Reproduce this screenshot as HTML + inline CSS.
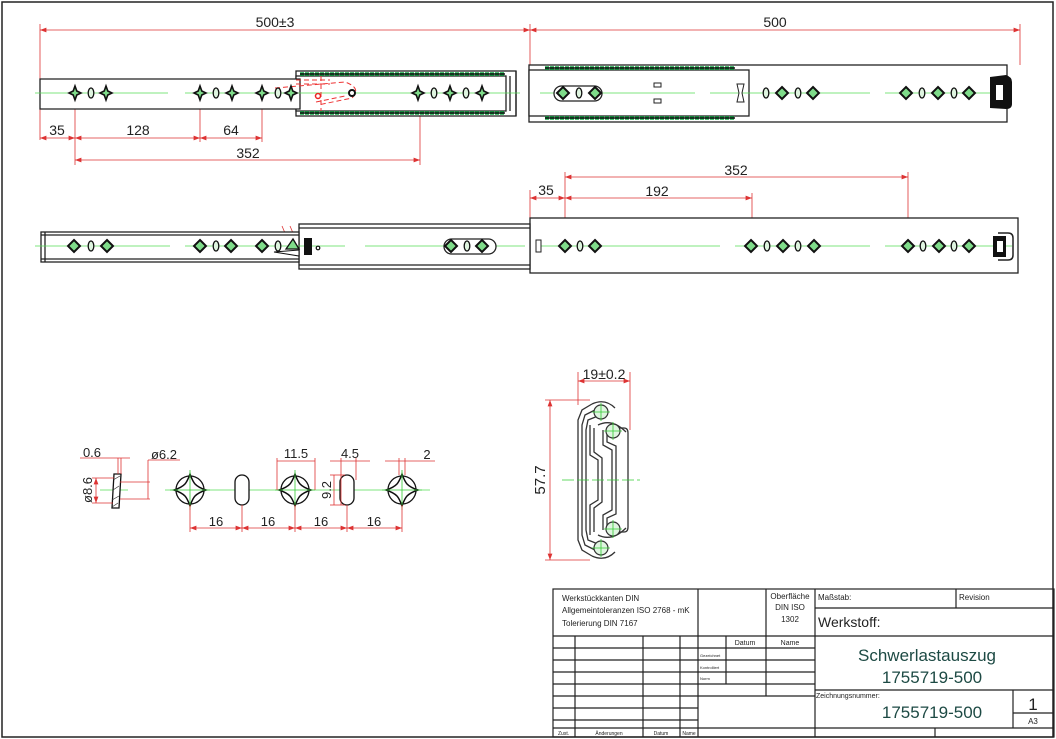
<!DOCTYPE html>
<html><head><meta charset="utf-8"><style>
html,body{margin:0;padding:0;background:#fff}
svg{display:block}
text{font-family:"Liberation Sans",sans-serif}
</style></head><body>
<svg width="1056" height="739" viewBox="0 0 1056 739" xmlns="http://www.w3.org/2000/svg">
<defs>
<g id="cr"><path d="M0,-7 L1.8,-2 L6,0 L1.8,2 L0,7 L-1.8,2 L-6,0 L-1.8,-2 Z" fill="#7fdc8a" stroke="#111" stroke-width="1.6"/></g>
<g id="dm"><path d="M0,-6 L6,0 L0,6 L-6,0 Z" fill="#7fdc8a" stroke="#111" stroke-width="2"/></g>
<g id="ov"><ellipse cx="0" cy="0" rx="2.8" ry="5" fill="#dff5e0" stroke="#111" stroke-width="1.3"/></g>
<g id="bc"><path d="M-4,-16 L-4,-6 A10 10 0 0 0 -16,-4 L-6,-4 L-16,-4 A11,11 0 0 1 -4,-16Z" fill="none"/>
<circle r="14" fill="none" stroke="#111" stroke-width="1.3"/>
<path d="M0,-16 C3,-8 4,-4 16,0 C4,4 3,8 0,16 C-3,8 -4,4 -16,0 C-4,-4 -3,-8 0,-16Z" fill="#fff" stroke="#111" stroke-width="1.5"/>
<line x1="-20" y1="0" x2="20" y2="0" stroke="#3c3" stroke-width="0.8"/><line x1="0" y1="-20" x2="0" y2="20" stroke="#3c3" stroke-width="0.8"/></g>
<marker id="ar" markerWidth="8" markerHeight="6" refX="8" refY="3" orient="auto-start-reverse"><path d="M0,0 L8,3 L0,6Z" fill="#d33"/></marker>
</defs>

<!-- border -->
<rect x="2" y="2" width="1051" height="735" fill="none" stroke="#222" stroke-width="1.5"/>

<g font-size="14" fill="#222" text-anchor="middle">
<!-- ===== VIEW 1 ===== -->
<g stroke="#d33" stroke-width="0.8" fill="none">
<line x1="40" y1="24" x2="40" y2="140"/><line x1="530" y1="24" x2="530" y2="65"/><line x1="1020" y1="24" x2="1020" y2="65"/>
<line x1="40" y1="30" x2="530" y2="30" marker-start="url(#ar)" marker-end="url(#ar)"/>
<line x1="530" y1="30" x2="1020" y2="30" marker-start="url(#ar)" marker-end="url(#ar)"/>
<line x1="75" y1="93" x2="75" y2="165"/><line x1="200" y1="93" x2="200" y2="142"/><line x1="262" y1="93" x2="262" y2="142"/><line x1="420" y1="93" x2="420" y2="165"/>
<line x1="40" y1="138" x2="75" y2="138" marker-start="url(#ar)" marker-end="url(#ar)"/>
<line x1="75" y1="138" x2="200" y2="138" marker-start="url(#ar)" marker-end="url(#ar)"/>
<line x1="200" y1="138" x2="262" y2="138" marker-start="url(#ar)" marker-end="url(#ar)"/>
<line x1="75" y1="160" x2="420" y2="160" marker-start="url(#ar)" marker-end="url(#ar)"/>
</g>
<text x="275" y="27">500±3</text><text x="775" y="27">500</text>
<text x="57" y="135">35</text><text x="138" y="135">128</text><text x="231" y="135">64</text><text x="248" y="158">352</text>

<g stroke="#222" stroke-width="1.3" fill="#fff">
<rect x="529" y="65" width="478" height="57"/>
<rect x="529" y="70" width="220" height="46"/>
<rect x="296" y="71" width="220" height="45"/>
<rect x="296" y="76" width="210" height="35"/>
<path d="M40,79 L300,79 L300,109 L40,109 Z"/>
<line x1="516" y1="71" x2="516" y2="116"/>
<line x1="510" y1="76" x2="510" y2="111"/>
</g>
<g stroke="#1a4" stroke-width="3.5" stroke-dasharray="4,1"><line x1="300" y1="74" x2="505" y2="74"/><line x1="300" y1="113" x2="505" y2="113"/><line x1="545" y1="68" x2="735" y2="68"/><line x1="545" y1="118" x2="735" y2="118"/></g>
<g stroke="#111" stroke-width="1.5"><line x1="300" y1="74" x2="505" y2="74"/><line x1="300" y1="113" x2="505" y2="113"/><line x1="545" y1="68" x2="735" y2="68"/><line x1="545" y1="118" x2="735" y2="118"/></g>
<g stroke="#5d5" stroke-width="0.8"><line x1="35" y1="93" x2="168" y2="93"/><line x1="185" y1="93" x2="520" y2="93"/><line x1="540" y1="93" x2="695" y2="93"/><line x1="710" y1="93" x2="870" y2="93"/><line x1="885" y1="93" x2="1010" y2="93"/></g>
<!-- red spring -->
<g stroke="#e33" stroke-width="1" fill="none" stroke-dasharray="5,3">
<path d="M275,88 L345,82 Q362,88 352,98 L318,105"/><path d="M296,80 L330,80 M296,84 L330,84 M321,76 L321,111"/><path d="M316,102 L345,96"/></g>
<circle cx="318" cy="96" r="2.5" fill="none" stroke="#e22" stroke-width="1.5"/>
<circle cx="352" cy="93" r="3" fill="#fff" stroke="#111" stroke-width="2"/>
<use href="#cr" x="75" y="93"/><use href="#ov" x="91" y="93"/><use href="#cr" x="106" y="93"/>
<use href="#cr" x="200" y="93"/><use href="#ov" x="216" y="93"/><use href="#cr" x="232" y="93"/>
<use href="#cr" x="262" y="93"/><use href="#ov" x="278" y="93"/><use href="#cr" x="291" y="93"/>
<use href="#cr" x="418" y="93"/><use href="#ov" x="434" y="93"/><use href="#cr" x="450" y="93"/><use href="#ov" x="466" y="93"/><use href="#cr" x="482" y="93"/>
<rect x="554" y="86" width="48" height="15" rx="7.5" fill="#fff" stroke="#222" stroke-width="1.3"/>
<use href="#dm" x="563" y="93"/><use href="#ov" x="579" y="93"/><use href="#dm" x="595" y="93"/>
<rect x="654" y="83" width="7" height="4" fill="#fff" stroke="#222"/><rect x="654" y="99" width="7" height="4" fill="#fff" stroke="#222"/>
<path d="M737,84 L744,84 L742,93 L744,102 L737,102 L739,93Z" fill="#fff" stroke="#222"/>
<use href="#ov" x="766" y="93"/><use href="#dm" x="782" y="93"/><use href="#ov" x="798" y="93"/><use href="#dm" x="813" y="93"/>
<use href="#dm" x="906" y="93"/><use href="#ov" x="922" y="93"/><use href="#dm" x="938" y="93"/><use href="#ov" x="954" y="93"/><use href="#dm" x="969" y="93"/>
<path d="M990,77 L1006,75 Q1012,77 1012,82 L1012,104 Q1012,109 1006,109 L990,108 Z" fill="#111"/>
<rect x="996" y="85" width="7" height="15" fill="#fff"/>

<!-- ===== VIEW 2 ===== -->
<g stroke="#d33" stroke-width="0.8" fill="none">
<line x1="530" y1="190" x2="530" y2="218"/><line x1="565" y1="172" x2="565" y2="246"/><line x1="752" y1="193" x2="752" y2="246"/><line x1="908" y1="172" x2="908" y2="246"/>
<line x1="530" y1="198" x2="565" y2="198" marker-start="url(#ar)" marker-end="url(#ar)"/>
<line x1="565" y1="198" x2="752" y2="198" marker-start="url(#ar)" marker-end="url(#ar)"/>
<line x1="565" y1="177" x2="908" y2="177" marker-start="url(#ar)" marker-end="url(#ar)"/>
<line x1="282" y1="226" x2="288" y2="240"/><line x1="290" y1="226" x2="296" y2="240"/>
</g>
<text x="546" y="195">35</text><text x="657" y="196">192</text><text x="736" y="175">352</text>
<g stroke="#222" stroke-width="1.3" fill="#fff">
<rect x="530" y="218" width="488" height="55"/>
<rect x="299" y="224" width="231" height="45"/>
<line x1="299" y1="228" x2="530" y2="228"/><line x1="299" y1="265" x2="530" y2="265"/>
<rect x="41" y="232" width="258" height="30"/>
<line x1="45" y1="232" x2="45" y2="262"/><line x1="41" y1="235" x2="299" y2="235"/><line x1="41" y1="259" x2="299" y2="259"/>
</g>
<g stroke="#5d5" stroke-width="0.8"><line x1="35" y1="246" x2="170" y2="246"/><line x1="185" y1="246" x2="345" y2="246"/><line x1="365" y1="246" x2="525" y2="246"/><line x1="540" y1="246" x2="720" y2="246"/><line x1="735" y1="246" x2="870" y2="246"/><line x1="885" y1="246" x2="1012" y2="246"/></g>
<use href="#dm" x="74" y="246"/><use href="#ov" x="91" y="246"/><use href="#dm" x="107" y="246"/>
<use href="#dm" x="200" y="246"/><use href="#ov" x="216" y="246"/><use href="#dm" x="231" y="246"/>
<use href="#dm" x="262" y="246"/><use href="#ov" x="278" y="246"/>
<path d="M286,249 L293,239 L299,249Z" fill="#7fdc8a" stroke="#111" stroke-width="1.3"/>
<path d="M274,252 L299,250 L299,256Z" fill="#fff" stroke="#111"/>
<rect x="304" y="238" width="8" height="17" fill="#111"/><circle cx="318" cy="248" r="1.8" fill="none" stroke="#111" stroke-width="1.2"/>
<rect x="444" y="239" width="52" height="15" rx="7.5" fill="#fff" stroke="#222" stroke-width="1.3"/>
<use href="#dm" x="451" y="246"/><use href="#ov" x="467" y="246"/><use href="#dm" x="482" y="246"/>
<rect x="536" y="240" width="5" height="12" fill="#fff" stroke="#222"/>
<use href="#dm" x="565" y="246"/><use href="#ov" x="580" y="246"/><use href="#dm" x="595" y="246"/>
<use href="#dm" x="751" y="246"/><use href="#ov" x="767" y="246"/><use href="#dm" x="783" y="246"/><use href="#ov" x="798" y="246"/><use href="#dm" x="814" y="246"/>
<use href="#dm" x="908" y="246"/><use href="#ov" x="923" y="246"/><use href="#dm" x="939" y="246"/><use href="#ov" x="954" y="246"/><use href="#dm" x="969" y="246"/>
<path d="M998,233 L1008,233 Q1013,233 1013,238 L1013,255 Q1013,260 1008,260 L998,260" fill="none" stroke="#222" stroke-width="1.5"/>
<path d="M993,236 L1006,236 L1006,257 L993,257 Z" fill="#111"/><rect x="997" y="241" width="6" height="11" fill="#fff"/>

<!-- ===== DETAILS ===== -->
<g stroke="#5d5" stroke-width="0.8"><line x1="100" y1="490" x2="128" y2="490"/><line x1="165" y1="490" x2="430" y2="490"/></g>
<path d="M114,474 L121,474 L119,508 L112,508Z" fill="#fff" stroke="#111" stroke-width="1.3"/>
<g stroke="#333" stroke-width="0.7"><line x1="113" y1="480" x2="120" y2="476"/><line x1="113" y1="490" x2="119" y2="486"/><line x1="112" y1="500" x2="119" y2="496"/><line x1="112" y1="507" x2="118" y2="503"/></g>
<use href="#bc" x="190" y="490"/><use href="#bc" x="295" y="490"/><use href="#bc" x="402" y="490"/>
<rect x="235" y="475" width="14" height="30" rx="7" fill="#fff" stroke="#111" stroke-width="1.3"/>
<rect x="340" y="475" width="14" height="30" rx="7" fill="#fff" stroke="#111" stroke-width="1.3"/>
<g stroke="#d33" stroke-width="0.8" fill="none">
<line x1="80" y1="458" x2="130" y2="458"/><line x1="118" y1="458" x2="118" y2="474"/><line x1="121" y1="458" x2="121" y2="474"/>
<line x1="92" y1="478" x2="114" y2="478"/><line x1="92" y1="503" x2="113" y2="503"/><line x1="96" y1="478" x2="96" y2="503" marker-start="url(#ar)" marker-end="url(#ar)"/>
<line x1="120" y1="482" x2="150" y2="482"/><line x1="120" y1="499" x2="150" y2="499"/><line x1="148" y1="460" x2="148" y2="499"/><line x1="148" y1="460" x2="180" y2="460"/>
<line x1="190" y1="505" x2="190" y2="532"/><line x1="242" y1="505" x2="242" y2="532"/><line x1="295" y1="505" x2="295" y2="532"/><line x1="347" y1="505" x2="347" y2="532"/><line x1="402" y1="505" x2="402" y2="532"/>
<line x1="190" y1="528" x2="242" y2="528" marker-start="url(#ar)" marker-end="url(#ar)"/><line x1="242" y1="528" x2="295" y2="528" marker-start="url(#ar)" marker-end="url(#ar)"/><line x1="295" y1="528" x2="347" y2="528" marker-start="url(#ar)" marker-end="url(#ar)"/><line x1="347" y1="528" x2="402" y2="528" marker-start="url(#ar)" marker-end="url(#ar)"/>
<line x1="277" y1="458" x2="277" y2="490"/><line x1="315" y1="458" x2="315" y2="490"/><line x1="277" y1="461" x2="315" y2="461"/>
<line x1="341" y1="458" x2="341" y2="505"/><line x1="356" y1="458" x2="356" y2="480"/><line x1="330" y1="461" x2="370" y2="461"/>
<line x1="330" y1="475" x2="345" y2="475"/><line x1="330" y1="505" x2="345" y2="505"/><line x1="334" y1="475" x2="334" y2="505"/>
<line x1="399" y1="458" x2="399" y2="475"/><line x1="405" y1="458" x2="405" y2="475"/><line x1="385" y1="461" x2="435" y2="461"/>
</g>
<text x="92" y="457" font-size="13">0.6</text><text x="164" y="459" font-size="13">ø6.2</text>
<text x="296" y="458" font-size="13">11.5</text><text x="350" y="458" font-size="13">4.5</text><text x="427" y="459" font-size="13">2</text>
<text x="216" y="526" font-size="13">16</text><text x="268" y="526" font-size="13">16</text><text x="321" y="526" font-size="13">16</text><text x="374" y="526" font-size="13">16</text>
<text transform="translate(92,490) rotate(-90)" font-size="13">ø8.6</text>
<text transform="translate(331,490) rotate(-90)" font-size="13">9.2</text>

<!-- profile -->
<g stroke="#d33" stroke-width="0.8" fill="none">
<line x1="578" y1="372" x2="578" y2="405"/><line x1="630" y1="372" x2="630" y2="430"/>
<line x1="578" y1="381" x2="630" y2="381" marker-start="url(#ar)" marker-end="url(#ar)"/>
<line x1="545" y1="400" x2="590" y2="400"/><line x1="545" y1="560" x2="590" y2="560"/>
<line x1="550" y1="400" x2="550" y2="560" marker-start="url(#ar)" marker-end="url(#ar)"/>
</g>
<text x="604" y="379" font-size="14">19±0.2</text>
<text transform="translate(545,480) rotate(-90)" font-size="15">57.7</text>
<g fill="none" stroke="#333" stroke-width="1.3">
<path d="M592,404 L582,410 L578,420 L578,540 L582,550 L592,556"/>
<path d="M595,410 L585,415 L582,425 L582,535 L585,545 L595,550"/>
<path d="M598,416 L588,420 L586,430 L586,530 L588,540 L598,544"/>
<path d="M590,425 L590,455 L598,460 L598,500 L590,505 L590,535"/>
<path d="M594,428 L594,452 L602,458 L602,502 L594,508 L594,532"/>
<path d="M603,430 L603,445 L612,450 L612,510 L603,515 L603,530"/>
<path d="M607,433 L607,442 L616,446 L616,514 L607,518 L607,527"/>
<path d="M612,428 L624,428 Q628,428 628,433 L628,527 Q628,532 624,532 L612,532"/>
<path d="M592,404 Q605,398 615,408 M598,425 Q612,418 626,432"/>
<path d="M592,556 Q605,562 615,552 M598,535 Q612,542 626,528"/>
</g>
<g fill="#dff5e0" stroke="#333" stroke-width="1.2"><circle cx="601" cy="412" r="7"/><circle cx="613" cy="431" r="7"/><circle cx="613" cy="529" r="7"/><circle cx="601" cy="548" r="7"/></g>
<g stroke="#3c3" stroke-width="0.8"><line x1="562" y1="480" x2="640" y2="480" stroke-dasharray="12,3"/>
<line x1="592" y1="412" x2="610" y2="412"/><line x1="601" y1="403" x2="601" y2="421"/><line x1="604" y1="431" x2="622" y2="431"/><line x1="613" y1="422" x2="613" y2="440"/>
<line x1="604" y1="529" x2="622" y2="529"/><line x1="613" y1="520" x2="613" y2="538"/><line x1="592" y1="548" x2="610" y2="548"/><line x1="601" y1="539" x2="601" y2="557"/></g>
</g>

<!-- ===== TITLE BLOCK ===== -->
<g stroke="#222" stroke-width="1.2" fill="none">
<rect x="553" y="589" width="501" height="148"/>
<line x1="698" y1="589" x2="698" y2="737"/><line x1="766" y1="589" x2="766" y2="696"/><line x1="815" y1="589" x2="815" y2="737"/>
<line x1="815" y1="608" x2="1054" y2="608"/><line x1="956" y1="589" x2="956" y2="608"/>
<line x1="553" y1="636" x2="1054" y2="636"/>
<line x1="575" y1="636" x2="575" y2="737"/><line x1="643" y1="636" x2="643" y2="737"/><line x1="680" y1="636" x2="680" y2="737"/>
<line x1="726" y1="636" x2="726" y2="684"/>
<line x1="553" y1="648" x2="815" y2="648"/><line x1="553" y1="660" x2="815" y2="660"/><line x1="553" y1="672" x2="815" y2="672"/><line x1="553" y1="684" x2="815" y2="684"/>
<line x1="553" y1="696" x2="815" y2="696"/><line x1="553" y1="708" x2="698" y2="708"/><line x1="553" y1="720" x2="698" y2="720"/>
<line x1="553" y1="728" x2="1054" y2="728"/>
<line x1="815" y1="690" x2="1054" y2="690"/><line x1="1013" y1="690" x2="1013" y2="728"/><line x1="1013" y1="713" x2="1054" y2="713"/>
<line x1="935" y1="728" x2="935" y2="737"/>
</g>
<g fill="#222" font-size="8">
<text x="562" y="601">Werkstückkanten DIN</text>
<text x="562" y="613">Allgemeintoleranzen ISO 2768 - mK</text>
<text x="562" y="626">Tolerierung DIN 7167</text>
<text x="790" y="599" text-anchor="middle">Oberfläche</text><text x="790" y="610" text-anchor="middle">DIN ISO</text><text x="790" y="622" text-anchor="middle">1302</text>
<text x="818" y="600">Maßstab:</text><text x="959" y="600">Revision</text>
<text x="745" y="645" text-anchor="middle" font-size="7">Datum</text><text x="790" y="645" text-anchor="middle" font-size="7">Name</text>
<text x="700" y="657" font-size="4">Gezeichnet</text><text x="700" y="669" font-size="4">Kontrolliert</text><text x="700" y="680" font-size="4">Norm</text>
<text x="558" y="735" font-size="5">Zust.</text><text x="609" y="735" font-size="5" text-anchor="middle">Änderungen</text><text x="661" y="735" font-size="5" text-anchor="middle">Datum</text><text x="689" y="735" font-size="5" text-anchor="middle">Name</text>
<text x="816" y="698" font-size="7">Zeichnungsnummer:</text>
<text x="1033" y="724" font-size="8" text-anchor="middle">A3</text>
</g>
<text x="818" y="627" font-size="14" fill="#222">Werkstoff:</text>
<g fill="#1d4a44" text-anchor="middle" font-size="17">
<text x="927" y="661">Schwerlastauszug</text><text x="932" y="683">1755719-500</text><text x="932" y="718">1755719-500</text>
</g>
<text x="1033" y="710" font-size="17" fill="#222" text-anchor="middle">1</text>
</svg>
</body></html>
